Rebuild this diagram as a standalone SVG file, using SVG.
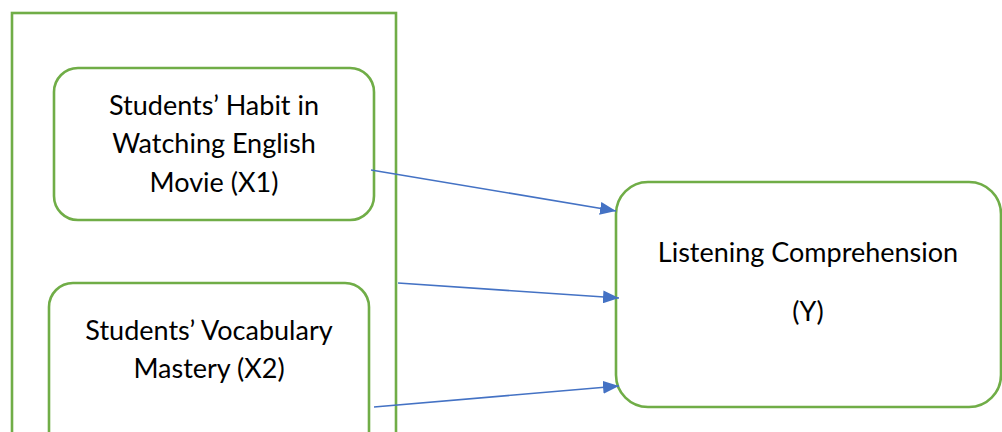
<svg xmlns="http://www.w3.org/2000/svg" width="1002" height="432" viewBox="0 0 1002 432">
<style>
.box{fill:#fff;stroke:#70AD47;stroke-width:2.6}
.t{font-family:Lato,"Open Sans","Liberation Sans",sans-serif;font-size:27px;fill:#000;text-anchor:middle}
.c{stroke:#4472C4;stroke-width:1.6;fill:none}
</style>
<defs>
<marker id="ah" markerUnits="userSpaceOnUse" markerWidth="17" markerHeight="13" refX="16" refY="6.5" orient="auto">
<path d="M0,0 L16,6.5 L0,13 z" fill="#4472C4"/>
</marker>
</defs>
<rect width="1002" height="432" fill="#fff"/>
<g id="group-outer"><rect class="box" x="12" y="13" width="384" height="440"/></g>
<g id="x1">
<rect class="box" x="54" y="68" width="320" height="152" rx="24"/>
<text class="t" x="214" y="115">Students’ Habit in</text>
<text class="t" x="214" y="153">Watching English</text>
<text class="t" x="214" y="192">Movie (X1)</text>
</g>
<g id="x2">
<rect class="box" x="49" y="283" width="320" height="180" rx="24"/>
<text class="t" x="209" y="340">Students’ Vocabulary</text>
<text class="t" x="209" y="378">Mastery (X2)</text>
</g>
<g id="y">
<rect class="box" x="616" y="182" width="385" height="225" rx="32"/>
<text class="t" x="808" y="262">Listening Comprehension</text>
<text class="t" x="808" y="321">(Y)</text>
</g>
<g id="connectors">
<line class="c" x1="371" y1="170" x2="616" y2="211" marker-end="url(#ah)"/>
<line class="c" x1="398" y1="283" x2="619" y2="298" marker-end="url(#ah)"/>
<line class="c" x1="374" y1="407" x2="619" y2="386" marker-end="url(#ah)"/>
</g>
</svg>
